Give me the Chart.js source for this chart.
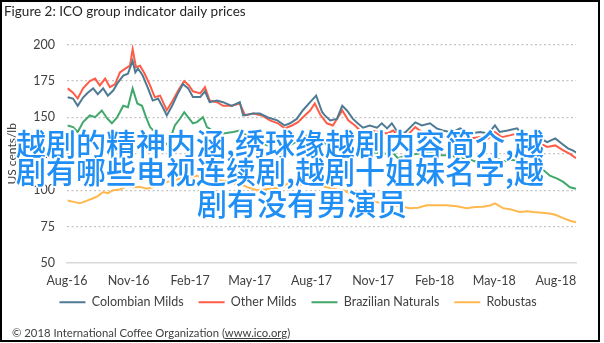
<!DOCTYPE html>
<html>
<head>
<meta charset="utf-8">
<script src="https://cdn.jsdelivr.net/npm/chart.js@4.4.1/dist/chart.umd.min.js"></script>
<style>
  html, body { margin:0; padding:0; background:#fff; }
  #wrap { position:relative; width:604px; height:343px; overflow:hidden; }
  #frame { position:absolute; left:0; top:0; width:600px; height:342px; box-sizing:border-box; border:2px solid #000; pointer-events:none; }
  #footer { position:absolute; left:12px; top:326px; font-family:Lato, sans-serif; font-size:11.3px; color:#404040; white-space:nowrap; }
  .cn { position:absolute; font-family:"Noto Sans CJK SC", sans-serif; font-size:30px; line-height:30px; font-weight:500; color:#1f8ff5; white-space:nowrap;
        text-shadow: 1px 1px 0 #fff, -1px -1px 0 #fff, 1px -1px 0 #fff, -1px 1px 0 #fff, 0 2px 0 #fff, 0 -2px 0 #fff, 2px 0 0 #fff, -2px 0 0 #fff; }
</style>
</head>
<body>
<div id="wrap">
  <canvas id="c" width="604" height="343"></canvas>
  <div class="cn" style="left:16px; top:127px;">越剧的精神内涵,绣球缘越剧内容简介,越</div>
  <div class="cn" style="left:16px; top:155px;">剧有哪些电视连续剧,越剧十姐妹名字,越</div>
  <div class="cn" style="left:197px; top:187px;">剧有没有男演员</div>
  <div id="footer">© 2018 International Coffee Organization (<u>www.ico.org</u>)</div>
  <div id="frame"></div>
</div>
<script>
// x values are days since 1 Aug 2016
const tickLabels = ['Aug-16','Nov-16','Feb-17','May-17','Aug-17','Nov-17','Feb-18','May-18','Aug-18'];
const tickDates = ['2016-08-01','2016-11-01','2017-02-01','2017-05-01','2017-08-01','2017-11-01','2018-02-01','2018-05-01','2018-08-01'];
const seriesNames = ['Colombian Milds','Other Milds','Brazilian Naturals','Robustas'];
const yTicks = [50, 75, 100, 125, 150, 175, 200];

const colombianDays = [1,9,16,24,31,39,46,54,61,69,76,84,91,98,102,106,113,121,128,136,143,149,157,164,173,181,188,199,206,213,224,233,246,258,263,278,288,300,314,325,333,343,352,363,372,381,385,393,403,411,418,427,434,442,452,463,470,478,485,494,505,520,530,542,552,561,575,587,602,617,629,639,646,658,672,679,691,703,717,729,739,748,755,760];
const colombian = [163.9,163,158,163.7,167,170,166,170,165,168.5,174,178.8,180,189,181,183.6,178.8,170,161.6,163,157,151.4,158,165,173,170,164,164,168,160.5,161.6,160.5,158,160.5,151.4,152.7,152.7,150,148,144.5,146,149,154.8,160.5,165,153.6,151.4,148,149,158,154.8,149,146,143,144.5,143,146,142.5,146,139.7,139.7,146.6,144.5,146,142.5,141,139.7,142.5,139,140,139,144.5,140,141,142.5,139,135.6,136.5,133,135.6,132,128.8,127.4,126];

const otherDays = [1,9,16,24,34,42,49,57,64,72,79,87,94,98,103,109,116,124,131,139,146,149,158,166,175,182,188,199,206,213,224,233,246,258,266,278,291,303,315,325,336,345,355,363,370,378,388,397,411,420,430,440,452,464,478,487,497,508,520,530,542,554,567,576,587,602,617,629,639,649,661,672,681,694,703,717,729,741,751,760];
const otherMilds = [170,167,163,170,175,176.7,172,176.7,170.8,173,181,183.6,185.6,197,184.5,185.6,180,172,164,165,158,155,161.6,168.5,175,172,168,166.5,170.8,161.6,160.5,158,158,159.6,151.4,152.7,151.4,148,146,142.5,144.5,146.8,151.4,154.8,159.6,152,146,144.5,154.8,148,144.5,140,141,140,139,141,136.5,137.7,143.4,140,140,137.7,136.5,136.8,137.7,135.6,136.5,135.6,140,136.5,137.7,139,135.6,132,133,129.7,130.8,127.4,125,122];

const brazilDays = [1,9,16,24,34,42,52,60,67,75,84,91,98,105,112,118,124,131,142,151,161,169,175,181,188,194,203,209,221,233,248,258,273,288,303,315,325,333,348,360,370,381,393,408,422,442,460,475,487,494,508,524,542,557,572,587,602,617,629,639,651,664,676,687,699,711,721,732,741,751,760];
const brazilian = [144.5,143.4,140,146.8,151.4,150.2,154.8,149.3,146,150.2,158,157,170,159.6,158,150.2,143.4,140,134,131,144.5,149.3,153.6,150,146,146.8,150.2,143.4,140,139,140,141,136,133,130,127,124,130.8,135,138,140,133,130,134,130,125,126,125,125.5,122,124,125,126,124,124,122,121,118.5,121,122.8,119.7,121,119.7,116,115,114,110,108,105.7,102,101];

const robustaDays = [1,10,19,28,39,46,54,61,69,79,90,99,109,119,128,139,149,158,169,179,188,194,203,213,224,233,243,254,263,273,284,293,303,314,322,333,340,348,363,378,393,403,412,422,433,448,460,472,487,497,512,524,537,552,567,582,597,609,621,632,639,651,661,676,687,696,709,721,730,741,751,760];
const robustas = [93,92,91,92.5,94.5,96,98.8,98,100,100.5,103,102,102.3,101,102,104,105.7,106.5,108,108.5,109,110,108,108.5,107,106.5,105.7,104,103.4,101.5,100,100.5,101,101.5,102.3,105.7,104.5,104,104,103,101.5,100.5,100,98,96,94.5,92,91,89.7,89,87.7,88,89.7,89.7,89.7,89,87.7,88.5,88.7,89.5,91,87.7,87,85,85.5,85,84.5,84,83,80.8,79,78];

const startDate = Date.UTC(2016, 7, 1);
const dayOf = s => Math.round((Date.parse(s + 'T00:00:00Z') - startDate) / 86400000);
const tickDays = tickDates.map(dayOf);
const lastDay = dayOf('2018-08-31');

const pts = (days, vals) => days.map((d, i) => ({ x: d, y: vals[i] }));
const colors = ['#4e7b93', '#ff5c47', '#40a86a', '#ffb84e'];
const allData = [pts(colombianDays, colombian), pts(otherDays, otherMilds), pts(brazilDays, brazilian), pts(robustaDays, robustas)];

const FONT = 'Lato, "Liberation Sans", sans-serif';

// fixes the legend box height and nudges it into place
const legendTune = {
  id: 'legendTune',
  beforeLayout(chart) {
    const lg = chart.legend;
    if (lg && !lg._tuned) {
      const orig = lg.fit;
      lg.fit = function () { orig.call(this); this.height = 22; };
      lg._tuned = true;
    }
  },
  afterLayout(chart) {
    const lg = chart.legend;
    if (lg) { lg.left += 8; lg.right += 8; lg.top -= 8; lg.height += 8; }
  }
};

new Chart(document.getElementById('c'), {
  type: 'line',
  plugins: [legendTune],
  data: {
    datasets: seriesNames.map((n, i) => ({
      label: n,
      data: allData[i],
      borderColor: colors[i],
      backgroundColor: colors[i],
      borderWidth: 2,
      pointRadius: 0,
      tension: 0,
      fill: false
    }))
  },
  options: {
    responsive: false,
    animation: false,
    devicePixelRatio: 1,
    layout: { padding: { left: 4, right: 28, top: 0, bottom: 32 } },
    plugins: {
      title: {
        display: true,
        text: 'Figure 2: ICO group indicator daily prices',
        align: 'start',
        color: '#262626',
        font: { family: FONT, size: 13.5, weight: 'normal' },
        padding: { top: 4, bottom: 24.5 }
      },
      legend: {
        position: 'bottom',
        labels: {
          boxWidth: 26,
          boxHeight: 2,
          padding: 15,
          color: '#404040',
          font: { family: FONT, size: 12.5 },
          generateLabels: (chart) => Chart.defaults.plugins.legend.labels.generateLabels(chart).map(l => ({ ...l, lineWidth: 0, fillStyle: l.strokeStyle }))
        }
      },
      tooltip: { enabled: false }
    },
    scales: {
      x: {
        type: 'linear',
        min: 0,
        max: lastDay,
        afterBuildTicks: (s) => { s.ticks = tickDays.map(v => ({ value: v })); },
        afterFit: (s) => { s.height = 26; },
        ticks: {
          autoSkip: false,
          maxRotation: 0,
          padding: 10.5,
          color: '#404040',
          font: { family: FONT, size: 12.5 },
          callback: (v) => { const k = tickDays.indexOf(v); return k >= 0 ? tickLabels[k] : ''; }
        },
        grid: { display: false, drawTicks: false },
        border: { display: true, color: '#d9d9d9', width: 1.5 }
      },
      y: {
        min: 50,
        max: 200,
        afterBuildTicks: (s) => { s.ticks = yTicks.map(v => ({ value: v })); },
        afterFit: (s) => { s.width = 63; },
        ticks: {
          padding: 12,
          color: '#404040',
          font: { family: FONT, size: 12.5 }
        },
        grid: {
          drawTicks: false,
          tickLength: 0,
          color: (ctx) => (ctx.tick && ctx.tick.value === 50) ? 'rgba(0,0,0,0)' : '#c4c4c4',
          lineWidth: 1.2
        },
        border: { display: false, dash: [2, 2.5] },
        title: {
          display: true,
          text: 'US cents/lb',
          color: '#404040',
          font: { family: FONT, size: 12 },
          padding: { top: 1, bottom: 0 }
        }
      }
    }
  }
});
</script>
</body>
</html>
